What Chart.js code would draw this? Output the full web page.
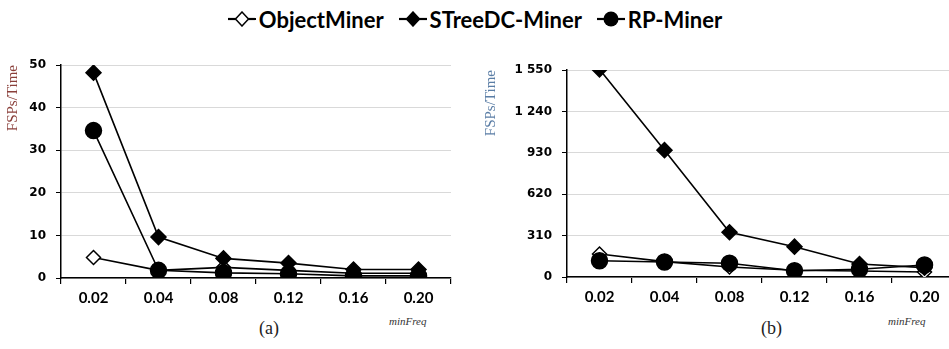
<!DOCTYPE html>
<html>
<head>
<meta charset="utf-8">
<script src="https://cdn.jsdelivr.net/npm/chart.js@4/dist/chart.umd.min.js"></script>
<style>
  html, body { margin: 0; padding: 0; background: #fff; overflow: hidden; }
  body { width: 949px; height: 349px; position: relative; }
  #legend {
    position: absolute; left: 0; top: 2px; width: 949px; height: 34px;
    display: flex; justify-content: center; align-items: center;
    font-family: Lato, sans-serif; font-weight: bold; font-size: 22px; color: #000;
  }
  #legend .item { display: flex; align-items: center; margin: 0 7px; }
  #legend svg { margin-right: 2px; }
  .box { position: absolute; top: 40px; height: 275px; }
  #boxA { left: 0; width: 470px; }
  #boxB { left: 478px; width: 490px; }
  .cap { position: absolute; font-family: "Liberation Serif", serif; font-size: 18px; color: #222; }
  .axisName { position: absolute; font-family: "Liberation Serif", serif; font-style: italic; font-size: 11px; color: #333; }
</style>
</head>
<body>
<div id="legend"></div>
<div class="box" id="boxA"><canvas id="chartA"></canvas></div>
<div class="box" id="boxB"><canvas id="chartB"></canvas></div>
<div class="axisName" style="left:389px; top:315px;">minFreq</div>
<div class="axisName" style="left:888px; top:315px;">minFreq</div>
<div class="cap" style="left:259px; top:318px;">(a)</div>
<div class="cap" style="left:761px; top:318px;">(b)</div>
<script>
// x categories (minimum frequency threshold)
const minFreqLabels = ['0.02', '0.04', '0.08', '0.12', '0.16', '0.20'];
const seriesNames = ['ObjectMiner', 'STreeDC-Miner', 'RP-Miner'];

// panel (a)
const objectMinerA = [4.8, 1.8, 2.5, 1.8, 1.1, 1.1];
const streeDCA = [48.2, 9.6, 4.6, 3.5, 2.0, 2.0];
const rpMinerA = [34.6, 1.8, 1.2, 1.0, 0.5, 0.5];
const yTicksA = { max: 50, step: 10 };

// panel (b)
const objectMinerB = [172, 115, 75, 50, 45, 38];
const streeDCB = [1555, 950, 335, 227, 97, 70];
const rpMinerB = [122, 112, 103, 47, 58, 90];
const yTicksB = { max: 1550, step: 310 };

const tickFont = { family: 'Lato', weight: 'bold', size: 15 };

// legend markers drawn as little svg glyphs
function markerSvg(kind) {
  let shape;
  if (kind === 'circle') shape = '<circle cx="15" cy="8" r="7.5" fill="#000"/>';
  else shape = '<polygon points="15,1 21.5,8 15,15 8.5,8" fill="' + (kind === 'hollow' ? '#fff' : '#000') + '" stroke="#000" stroke-width="1.5"/>';
  return '<svg width="30" height="16"><line x1="1" y1="8" x2="29" y2="8" stroke="#000" stroke-width="2.2"/>' + shape + '</svg>';
}
const legendKinds = ['hollow', 'filled', 'circle'];
document.getElementById('legend').innerHTML = seriesNames.map((n, i) =>
  '<div class="item">' + markerSvg(legendKinds[i]) + '<span>' + n + '</span></div>').join('');

// lower order is painted last, so RP-Miner circles sit on top
function dataset(label, data, style, order) {
  const base = {
    label, data, order,
    borderColor: '#000', borderWidth: 1.6,
    pointBorderColor: '#000', pointBorderWidth: 1.5,
    tension: 0
  };
  if (style === 'hollow') Object.assign(base, { pointStyle: 'rectRot', pointRadius: 7, pointBackgroundColor: '#fff' });
  if (style === 'filled') Object.assign(base, { pointStyle: 'rectRot', pointRadius: 7.5, pointBackgroundColor: '#000' });
  if (style === 'circle') Object.assign(base, { pointStyle: 'circle', pointRadius: 8, pointBackgroundColor: '#000' });
  return base;
}

function spaced(v) {
  return String(v).replace(/\B(?=(\d{3})+(?!\d))/g, ' ');
}

function makeChart(id, series, yt, geo) {
  return new Chart(document.getElementById(id), {
    type: 'line',
    data: {
      labels: minFreqLabels,
      datasets: [
        dataset(seriesNames[0], series[0], 'hollow', 3),
        dataset(seriesNames[1], series[1], 'filled', 2),
        dataset(seriesNames[2], series[2], 'circle', 1)
      ]
    },
    options: {
      responsive: true,
      maintainAspectRatio: false,
      animation: false,
      layout: { padding: geo.padding },
      plugins: { legend: { display: false }, tooltip: { enabled: false } },
      scales: {
        x: {
          offset: true,
          afterFit: s => { s.height = geo.xHeight; },
          grid: { offset: true, drawOnChartArea: false, color: '#000', tickLength: 6, lineWidth: 1.2 },
          border: { color: '#000', width: 1.5 },
          ticks: { color: '#000', font: tickFont, padding: 5, maxRotation: 0 }
        },
        y: {
          min: 0, max: yt.max,
          afterFit: s => { s.width = geo.yWidth; },
          grid: { color: '#d9d9d9', tickColor: '#000', tickLength: 5, lineWidth: 1 },
          border: { color: '#000', width: 1.5 },
          ticks: {
            stepSize: yt.step, color: '#000', padding: 10,
            font: { family: 'DejaVu Sans', weight: 'bold', size: 12 },
            callback: v => spaced(v)
          },
          title: {
            display: true, text: 'FSPs/Time', align: 'end', color: geo.titleColor,
            font: { family: 'Liberation Serif', size: 15 }, padding: { top: 0, bottom: 0 }
          }
        }
      }
    }
  });
}

makeChart('chartA', [objectMinerA, streeDCA, rpMinerA], yTicksA,
  { padding: { left: 4, right: 19, top: 25, bottom: 0 }, yWidth: 57, xHeight: 37, titleColor: '#8a3f3a' });
makeChart('chartB', [objectMinerB, streeDCB, rpMinerB], yTicksB,
  { padding: { left: 4, right: 11, top: 30, bottom: 0 }, yWidth: 85, xHeight: 38, titleColor: '#5b7ea6' });
</script>
</body>
</html>
